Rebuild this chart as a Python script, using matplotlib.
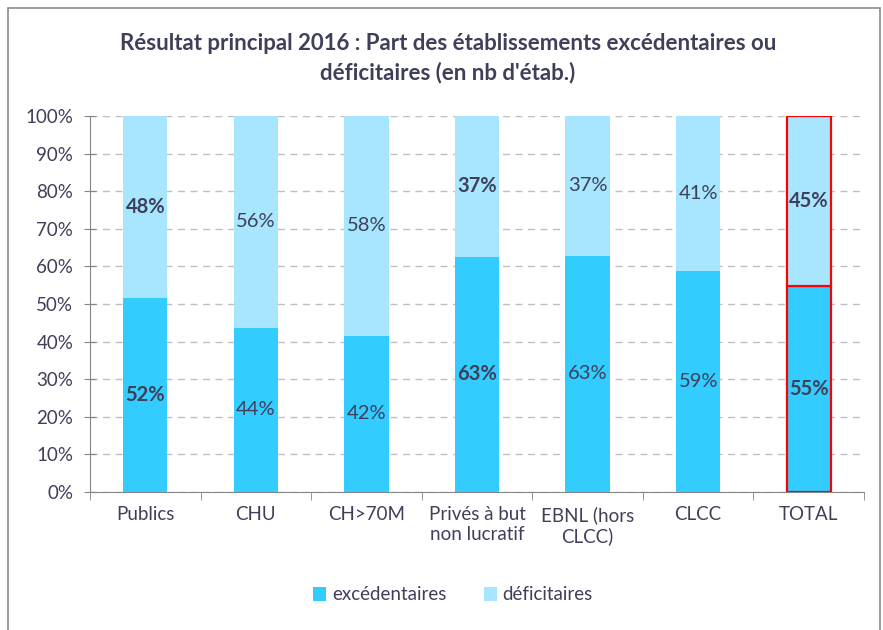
import matplotlib.pyplot as plt
from matplotlib.patches import Rectangle
from matplotlib.ticker import PercentFormatter
import numpy as np

plt.rcParams["font.family"] = ["Lato", "DejaVu Sans"]

categories = ["Publics", "CHU", "CH>70M", "Privés à but\nnon lucratif",
              "EBNL (hors\nCLCC)", "CLCC", "TOTAL"]
excedentaires = [51.6, 43.7, 41.6, 62.6, 62.8, 58.8, 54.8]
deficitaires = [48.4, 56.3, 58.4, 37.4, 37.2, 41.2, 45.2]
bold_labels = [True, False, False, True, False, False, True]

TEXT = "#3F3F5A"
C_EXC = "#33CCFF"
C_DEF = "#A8E6FF"

fig = plt.figure(figsize=(8.83, 6.3), dpi=100)
ax = fig.add_axes([90 / 883, 1 - 492 / 630, 774 / 883, 376 / 630])

x = np.arange(len(categories))
w = 0.4
b1 = ax.bar(x, excedentaires, w, color=C_EXC, label="excédentaires", zorder=3)
b2 = ax.bar(x, deficitaires, w, bottom=excedentaires, color=C_DEF,
            label="déficitaires", zorder=3)

# highlight the TOTAL bar
for bars in (b1, b2):
    bars[-1].set_edgecolor("#FF0000")
    bars[-1].set_linewidth(1.6)

for i in range(len(categories)):
    fw = "bold" if bold_labels[i] else "normal"
    ax.text(x[i], excedentaires[i] / 2, f"{excedentaires[i]:.0f}%", ha="center",
            va="center", fontsize=14.5, color=TEXT, fontweight=fw, zorder=4)
    ax.text(x[i], excedentaires[i] + deficitaires[i] / 2, f"{deficitaires[i]:.0f}%",
            ha="center", va="center", fontsize=14.5, color=TEXT, fontweight=fw, zorder=4)

ax.set_xlim(-0.5, len(categories) - 0.5)
ax.set_ylim(0, 100)
ax.set_yticks(np.arange(0, 101, 10))
ax.yaxis.set_major_formatter(PercentFormatter(decimals=0))
ax.set_xticks(x)
ax.set_xticklabels(categories, fontsize=13.5, color=TEXT)
ax.set_xticks(np.arange(-0.5, len(categories), 1), minor=True)
ax.tick_params(axis="x", which="major", length=0, pad=10)
ax.tick_params(axis="x", which="minor", length=6, color="#868686", direction="out")
ax.tick_params(axis="y", length=8, color="#868686", labelsize=13.5, labelcolor=TEXT,
               direction="inout", pad=8)
ax.grid(axis="y", color="#BFBFBF", linestyle=(0, (5, 4)), linewidth=1, zorder=0)
for s in ("top", "right"):
    ax.spines[s].set_visible(False)
for s in ("left", "bottom"):
    ax.spines[s].set_color("#868686")

fig.text(448 / 883, 1 - 58 / 630,
         "Résultat principal 2016 : Part des établissements excédentaires ou\n"
         "déficitaires (en nb d'étab.)",
         ha="center", va="center", fontsize=16, fontweight="bold", color=TEXT,
         linespacing=1.45)

fig.legend(loc="center", bbox_to_anchor=(453 / 883, 1 - 595 / 630), ncol=2,
           frameon=False, fontsize=13.5, handlelength=0.7, handleheight=0.7,
           handletextpad=0.3, columnspacing=2.0, labelcolor=TEXT)

fig.patches.append(Rectangle((8 / 883, -0.01), 872 / 883, 1 - 8 / 630 + 0.01,
                             transform=fig.transFigure, fill=False,
                             edgecolor="#8C8C8C", linewidth=1.2))

fig.savefig("out.png", dpi=100)
